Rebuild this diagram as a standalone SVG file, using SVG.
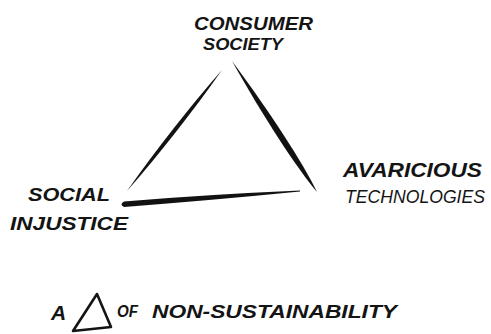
<svg xmlns="http://www.w3.org/2000/svg" width="491" height="334" viewBox="0 0 491 334">
  <style>
    .hand { font-family: "Liberation Sans", "DejaVu Sans", sans-serif; font-weight: bold; font-style: italic; fill: #141414; }
    .thin { font-weight: normal; }
    .stroke { fill: #121212; }
    .glyph { fill: none; stroke: #141414; stroke-width: 2.6; stroke-linejoin: round; stroke-linecap: round; }
  </style>
  <rect width="491" height="334" fill="#ffffff"/>

  <!-- triangle sides, drawn as tapered brush strokes -->
  <g id="connectors">
    <path id="edge-left" class="stroke" d="M222,70 C192.4,112 160.8,152.4 127,191 C156.6,149 188.2,108.6 222,70 Z"/>
    <path id="edge-right" class="stroke" d="M232,61 C269.4,111.2 303.4,163.6 317,192 C296.6,168 262.6,115.6 232,61 Z"/>
    <path id="edge-bottom" class="stroke" d="M300,190.6 Q210,194.5 124,201.5 Q119,204.5 124,207 Q210,200.5 300,191.6 Z"/>
  </g>

  <g id="consumer-society">
    <text class="hand" x="194" y="30" font-size="18" textLength="119" lengthAdjust="spacingAndGlyphs">CONSUMER</text>
    <text class="hand" x="203" y="50" font-size="16" textLength="80" lengthAdjust="spacingAndGlyphs">SOCIETY</text>
  </g>

  <g id="social-injustice">
    <text class="hand" x="28" y="201" font-size="18" textLength="82" lengthAdjust="spacingAndGlyphs">SOCIAL</text>
    <text class="hand" x="10" y="230" font-size="18" textLength="118" lengthAdjust="spacingAndGlyphs">INJUSTICE</text>
  </g>

  <g id="avaricious-technologies">
    <text class="hand" x="343" y="177" font-size="20" textLength="139" lengthAdjust="spacingAndGlyphs">AVARICIOUS</text>
    <text class="hand thin" x="345" y="203" font-size="18" textLength="140" lengthAdjust="spacingAndGlyphs">TECHNOLOGIES</text>
  </g>

  <g id="caption">
    <text class="hand" x="51" y="320" font-size="21">A</text>
    <path class="glyph" d="M97,294 L73,331 L111,327 Z"/>
    <text class="hand" x="117" y="317" font-size="16" textLength="21" lengthAdjust="spacingAndGlyphs">OF</text>
    <text class="hand" x="152" y="318" font-size="19" textLength="245" lengthAdjust="spacingAndGlyphs">NON-SUSTAINABILITY</text>
  </g>
</svg>
